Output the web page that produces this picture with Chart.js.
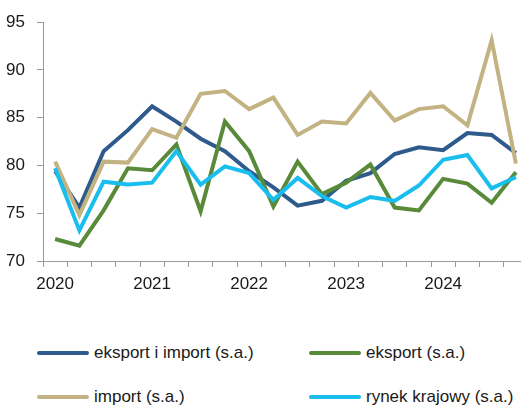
<!DOCTYPE html>
<html>
<head>
<meta charset="utf-8">
<script src="https://cdn.jsdelivr.net/npm/chart.js@4/dist/chart.umd.min.js"></script>
<style>
  body { margin: 0; background: #fff; font-family: "Liberation Sans", Arial, sans-serif; }
  #wrap { position: relative; width: 521px; height: 407px; overflow: hidden; }
  #legend div.item { position: absolute; height: 20px; font-size: 17px; color: #1a1a1a; white-space: nowrap; }
  #legend span.line { position: absolute; left: 0; top: 8px; width: 52px; height: 4px; border-radius: 2px; }
  #legend span.txt { position: absolute; left: 57px; top: 0; line-height: 20px; }
</style>
</head>
<body>
<div id="wrap">
  <canvas id="chart" width="521" height="300"></canvas>
  <div id="legend"></div>
</div>
<script>
// kwartaly 2020 Q1 - 2024 Q4
var quarters = ['2020 Q1','2020 Q2','2020 Q3','2020 Q4','2021 Q1','2021 Q2','2021 Q3','2021 Q4',
'2022 Q1','2022 Q2','2022 Q3','2022 Q4','2023 Q1','2023 Q2','2023 Q3','2023 Q4',
'2024 Q1','2024 Q2','2024 Q3','2024 Q4'];
var yearLabels = ['2020','2021','2022','2023','2024'];
var yTicks = [70, 75, 80, 85, 90, 95];

var eksportImport = [79.4, 75.6, 81.5, 83.7, 86.2, 84.6, 82.8, 81.5, 79.4, 77.7,
75.8, 76.3, 78.4, 79.2, 81.2, 81.9, 81.6, 83.4, 83.2, 81.3];
var eksport = [72.3, 71.6, 75.3, 79.7, 79.5, 82.2, 75.2, 84.6, 81.5, 75.7,
80.4, 77.0, 78.2, 80.1, 75.6, 75.3, 78.6, 78.1, 76.1, 79.3];
var importSa = [80.4, 74.8, 80.4, 80.3, 83.8, 82.9, 87.5, 87.8, 85.9, 87.1,
83.2, 84.6, 84.4, 87.6, 84.7, 85.9, 86.2, 84.2, 93.1, 80.2];
var rynekKrajowy = [79.7, 73.2, 78.3, 78.0, 78.2, 81.5, 78.0, 79.9, 79.2, 76.4,
78.7, 76.8, 75.6, 76.7, 76.3, 77.9, 80.6, 81.1, 77.6, 78.8];

var series = [
  { label: 'eksport i import (s.a.)', data: eksportImport, color: '#2e5a8c', order: 3 },
  { label: 'eksport (s.a.)', data: eksport, color: '#588a3a', order: 2 },
  { label: 'import (s.a.)', data: importSa, color: '#c3b383', order: 1 },
  { label: 'rynek krajowy (s.a.)', data: rynekKrajowy, color: '#19bdee', order: 0 }
];

var axisColor = '#9a9a9a';
var textColor = '#1a1a1a';
var font = { family: '"Liberation Sans", Arial, sans-serif', size: 17 };

new Chart(document.getElementById('chart'), {
  type: 'line',
  data: {
    datasets: series.map(s => ({
      label: s.label,
      data: s.data.map((v, i) => ({ x: i, y: v })),
      borderColor: s.color,
      backgroundColor: s.color,
      borderWidth: 4,
      pointRadius: 0,
      tension: 0,
      order: s.order
    }))
  },
  options: {
    responsive: false,
    animation: false,
    layout: { padding: { top: 19, right: 0, bottom: 0, left: 0 } },
    plugins: { legend: { display: false }, tooltip: { enabled: false } },
    scales: {
      x: {
        type: 'linear',
        min: -0.5,
        max: 19.21,
        afterBuildTicks: function (scale) {
          scale.ticks = quarters.map((q, i) => ({ value: i - 0.5 }));
        },
        afterFit: function (scale) { scale.height = 39; },
        ticks: {
          autoSkip: false,
          maxRotation: 0,
          padding: 7,
          labelOffset: 12.1,
          color: textColor,
          font: font,
          callback: function (value) {
            var idx = Math.round(value + 0.5);
            return idx % 4 === 0 ? yearLabels[idx / 4] : '';
          }
        },
        grid: { drawOnChartArea: false, drawTicks: true, tickLength: 6, color: axisColor },
        border: { display: true, color: axisColor, width: 1 }
      },
      y: {
        min: 70,
        max: 95,
        afterBuildTicks: function (scale) {
          scale.ticks = yTicks.map(v => ({ value: v }));
        },
        afterFit: function (scale) { scale.width = 43; },
        ticks: { padding: 12, color: textColor, font: font },
        grid: { drawOnChartArea: false, drawTicks: true, tickLength: 6, color: axisColor },
        border: { display: true, color: axisColor, width: 1 }
      }
    }
  }
});

// legenda w dwoch kolumnach
var legendPos = [
  { left: 37, top: 343 }, { left: 309, top: 343 },
  { left: 37, top: 387 }, { left: 309, top: 387 }
];
var legendOrder = [0, 1, 2, 3];
var legend = document.getElementById('legend');
legendOrder.forEach((si, k) => {
  var s = series[si];
  var item = document.createElement('div');
  item.className = 'item';
  item.style.left = legendPos[k].left + 'px';
  item.style.top = legendPos[k].top + 'px';
  item.innerHTML = '<span class="line" style="background:' + s.color + '"></span><span class="txt">' + s.label + '</span>';
  legend.appendChild(item);
});
</script>
</body>
</html>
